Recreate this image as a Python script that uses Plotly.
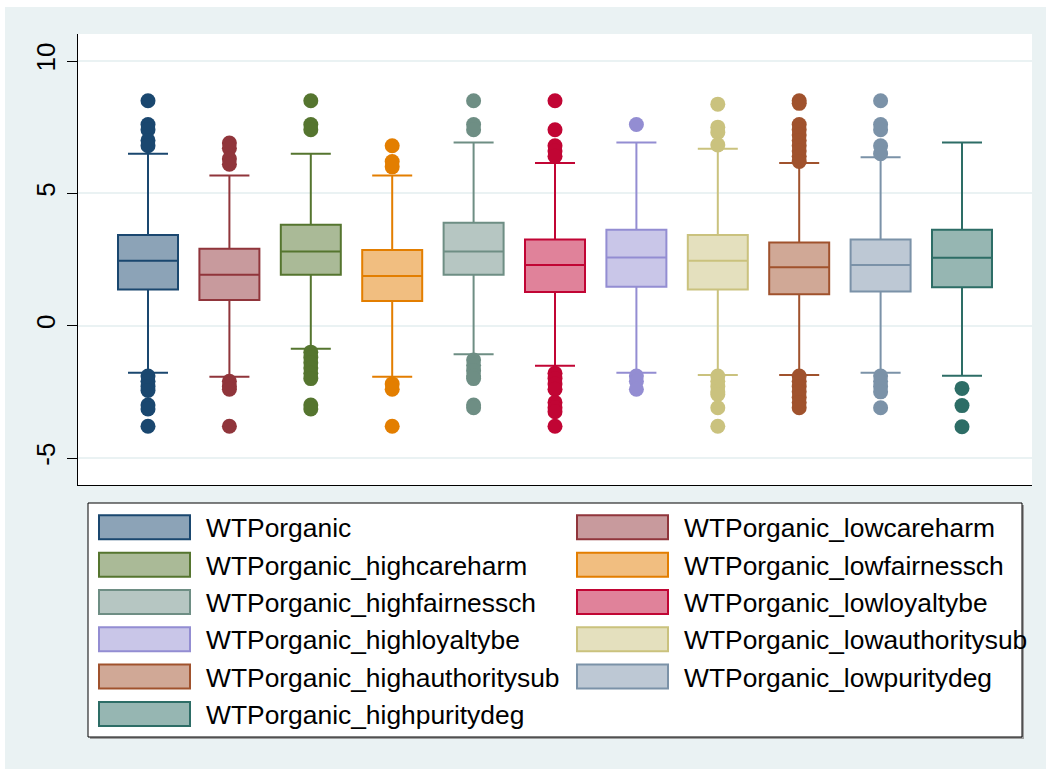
import plotly.graph_objects as go

# ---------------- data ----------------
names = ["WTPorganic", "WTPorganic_lowcareharm", "WTPorganic_highcareharm",
         "WTPorganic_lowfairnessch", "WTPorganic_highfairnessch",
         "WTPorganic_lowloyaltybe", "WTPorganic_highloyaltybe",
         "WTPorganic_lowauthoritysub", "WTPorganic_highauthoritysub",
         "WTPorganic_lowpuritydeg", "WTPorganic_highpuritydeg"]
q1 = [1.37, 0.97, 1.92, 0.93, 1.92, 1.27, 1.47, 1.37, 1.19, 1.29, 1.45]
median = [2.45, 1.92, 2.80, 1.88, 2.80, 2.29, 2.58, 2.45, 2.21, 2.29, 2.57]
q3 = [3.43, 2.91, 3.81, 2.86, 3.89, 3.26, 3.62, 3.43, 3.14, 3.26, 3.62]
upper_whisker = [6.50, 5.67, 6.50, 5.67, 6.92, 6.15, 6.92, 6.68, 6.15, 6.36, 6.92]
lower_whisker = [-1.78, -1.93, -0.87, -1.93, -1.08, -1.51, -1.78, -1.86, -1.86, -1.78, -1.89]
outliers = [
    [8.5, 7.6, 7.4, 7.0, 6.8, -1.9, -2.1, -2.3, -2.45, -3.0, -3.15, -3.8],
    [6.9, 6.7, 6.3, 6.1, -2.1, -2.3, -2.4, -3.8],
    [8.5, 7.6, 7.4, -1.0, -1.2, -1.4, -1.6, -1.8, -2.0, -3.0, -3.15],
    [6.8, 6.2, 6.0, -2.2, -2.4, -3.8],
    [8.5, 7.6, 7.4, -1.3, -1.5, -1.7, -1.9, -2.0, -3.0, -3.1],
    [8.5, 7.4, 6.8, 6.6, 6.4, -1.8, -2.0, -2.2, -2.4, -2.9, -3.1, -3.25, -3.8],
    [7.6, -1.9, -2.1, -2.4],
    [8.37, 7.5, 7.3, 6.83, -1.9, -2.1, -2.3, -2.5, -2.6, -3.1, -3.8],
    [8.5, 8.4, 7.6, 7.4, 7.2, 7.0, 6.8, 6.6, 6.4, 6.2,
     -1.9, -2.1, -2.3, -2.5, -2.7, -2.9, -3.1],
    [8.5, 7.6, 7.4, 6.8, 6.5, -1.9, -2.1, -2.3, -2.5, -3.1],
    [-2.37, -3.02, -3.82],
]
colors = ["#1a476f", "#90353b", "#55752f", "#e37e00", "#6e8e84", "#c10534",
          "#938dd2", "#cac27e", "#a0522d", "#7b92a8", "#2d6d66"]
y_ticks = [-5, 0, 5, 10]

# ---------------- geometry helpers ----------------
W, H = 1046, 769
L, R, T, B = 78, 1032, 34, 485          # plot area in pixels
BG = "#EAF2F3"


def px_x(px):
    return (px - L) / (R - L)


def px_y(py):
    return (B - py) / (B - T)


def tint(hexc, a=0.5):
    h = hexc.lstrip("#")
    r, g, b = int(h[0:2], 16), int(h[2:4], 16), int(h[4:6], 16)
    return "rgb(%d,%d,%d)" % (round(r * a + 255 * (1 - a)),
                              round(g * a + 255 * (1 - a)),
                              round(b * a + 255 * (1 - a)))


fig = go.Figure()

for i, n in enumerate(names):
    fig.add_trace(go.Box(
        x=[i], q1=[q1[i]], median=[median[i]], q3=[q3[i]],
        lowerfence=[lower_whisker[i]], upperfence=[upper_whisker[i]],
        name=n, width=0.737, whiskerwidth=0.667,
        line=dict(color=colors[i], width=2), fillcolor=tint(colors[i]),
        boxpoints=False, showlegend=False, hoverinfo="y",
    ))

for i, n in enumerate(names):
    fig.add_trace(go.Scatter(
        x=[i] * len(outliers[i]), y=outliers[i], mode="markers",
        marker=dict(color=colors[i], size=15, line=dict(width=0)),
        name=n, showlegend=False,
    ))

shapes = []
annotations = []
# white strips (top & left) of the outer frame
shapes.append(dict(type="rect", xref="paper", yref="paper",
                   x0=px_x(0), x1=px_x(W), y0=px_y(7), y1=px_y(0),
                   fillcolor="white", line=dict(width=0), layer="below"))
shapes.append(dict(type="rect", xref="paper", yref="paper",
                   x0=px_x(0), x1=px_x(5), y0=px_y(H), y1=px_y(0),
                   fillcolor="white", line=dict(width=0), layer="below"))

# legend box (shadow + frame)
shapes.append(dict(type="rect", xref="paper", yref="paper",
                   x0=px_x(90), x1=px_x(1024), y0=px_y(739), y1=px_y(505),
                   fillcolor="#a0a0a0", line=dict(width=0)))
shapes.append(dict(type="rect", xref="paper", yref="paper",
                   x0=px_x(88), x1=px_x(1022), y0=px_y(737), y1=px_y(503),
                   fillcolor="white", line=dict(color="black", width=1)))

col_sw = [(99, 190), (577, 668)]
col_tx = [204, 682]
row0, drow = 527.3, 37.33
for i, n in enumerate(names):
    c = i % 2
    r = i // 2
    yc = row0 + r * drow
    shapes.append(dict(type="rect", xref="paper", yref="paper",
                       x0=px_x(col_sw[c][0]), x1=px_x(col_sw[c][1]),
                       y0=px_y(yc + 12), y1=px_y(yc - 12),
                       fillcolor=tint(colors[i]),
                       line=dict(color=colors[i], width=2)))
    annotations.append(dict(xref="paper", yref="paper", x=px_x(col_tx[c]), y=px_y(yc + 1),
                            text=n, showarrow=False, xanchor="left", yanchor="middle",
                            font=dict(family="Liberation Sans, Arial", size=26.4, color="black")))

fig.update_layout(
    width=W, height=H,
    margin=dict(l=L, r=W - R, t=T, b=H - B, pad=0),
    paper_bgcolor=BG, plot_bgcolor="white",
    font=dict(family="Liberation Sans, Arial", color="black"),
    showlegend=False,
    shapes=shapes, annotations=annotations,
    xaxis=dict(range=[-0.86, 10.86], showticklabels=False, ticks="",
               showgrid=False, zeroline=False, showline=True,
               linecolor="black", linewidth=1),
    yaxis=dict(range=[-6.02, 11.02], tickvals=y_ticks,
               ticktext=[str(v) for v in y_ticks], tickangle=-90,
               ticks="outside", ticklen=10, tickwidth=1, tickcolor="black",
               tickfont=dict(size=26, family="Liberation Sans, Arial", color="black"),
               ticklabelstandoff=2,
               showgrid=True, gridcolor=BG, gridwidth=2, zeroline=False,
               showline=True, linecolor="black", linewidth=1),
)

fig.write_html("out.html", config={"displayModeBar": False},
               post_script="document.body.style.margin='0';document.body.style.overflow='hidden';")
